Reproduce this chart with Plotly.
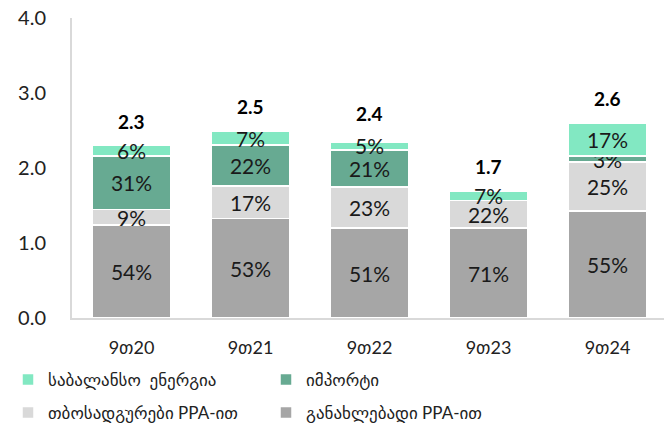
import plotly.graph_objects as go

categories = ["9თ20", "9თ21", "9თ22", "9თ23", "9თ24"]

renewable_ppa = [1.24, 1.33, 1.20, 1.20, 1.43]
thermal_ppa = [0.21, 0.43, 0.55, 0.37, 0.65]
imports = [0.71, 0.55, 0.49, 0.00, 0.08]
balancing = [0.14, 0.18, 0.11, 0.12, 0.44]

renewable_pct = ["54%", "53%", "51%", "71%", "55%"]
thermal_pct = ["9%", "17%", "23%", "22%", "25%"]
imports_pct = ["31%", "22%", "21%", "", "3%"]
balancing_pct = ["6%", "7%", "5%", "7%", "17%"]

totals = [2.3, 2.5, 2.4, 1.7, 2.6]

FONT = "Lato, DejaVu Sans, sans-serif"

# (name, values, labels, colour, legend row)
series = [
    ("განახლებადი PPA-ით", renewable_ppa, renewable_pct, "#A6A6A6", "legend2"),
    ("თბოსადგურები PPA-ით", thermal_ppa, thermal_pct, "#D9D9D9", "legend2"),
    ("იმპორტი", imports, imports_pct, "#67AA92", "legend"),
    ("საბალანსო  ენერგია", balancing, balancing_pct, "#82E8C2", "legend"),
]

fig = go.Figure()
for name, vals, labels, color, leg in series:
    fig.add_trace(go.Bar(
        x=categories, y=vals, name=name, text=labels,
        textposition="inside", insidetextanchor="middle",
        constraintext="none",
        textfont=dict(size=21, color="#1a1a1a", family=FONT),
        marker=dict(color=color, line=dict(color="white", width=1.5)),
        legend=leg, hoverinfo="skip",
    ))

for cat, tot in zip(categories, totals):
    fig.add_annotation(
        x=cat, y=tot, text=f"<b>{tot:.1f}</b>", showarrow=False,
        yanchor="bottom", yshift=11,
        font=dict(size=19, color="black", family=FONT),
    )

legend_style = dict(
    orientation="h", traceorder="reversed",
    xref="container", yref="container",
    x=0.0, xanchor="left", yanchor="middle",
    entrywidth=213, entrywidthmode="pixels", itemwidth=30,
    font=dict(size=17, family=FONT, color="#222222"),
    itemclick=False, bgcolor="rgba(0,0,0,0)",
)

fig.update_layout(
    barmode="stack",
    bargap=0.34,
    width=672, height=430,
    margin=dict(l=64, r=13, t=10, b=120),
    plot_bgcolor="white", paper_bgcolor="white",
    font=dict(family=FONT, size=17, color="#222222"),
    showlegend=True,
    legend=dict(legend_style, y=1 - 372 / 430),
    legend2=dict(legend_style, y=1 - 405 / 430),
)
fig.update_yaxes(
    range=[0, 4.0], dtick=1.0, tickformat=".1f",
    showgrid=False, showline=True, linecolor="#D9D9D9", linewidth=2,
    ticks="", ticklabelstandoff=20, ticklabeloverflow="allow",
    automargin=False,
    tickfont=dict(size=20, family=FONT, color="#222222"),
    zeroline=False,
)
fig.update_xaxes(
    showgrid=False, showline=True, linecolor="#D9D9D9", linewidth=2,
    ticks="", ticklabelstandoff=12, automargin=False,
    tickfont=dict(size=18, family=FONT, color="#222222"),
)

fig.write_html("out.html")
